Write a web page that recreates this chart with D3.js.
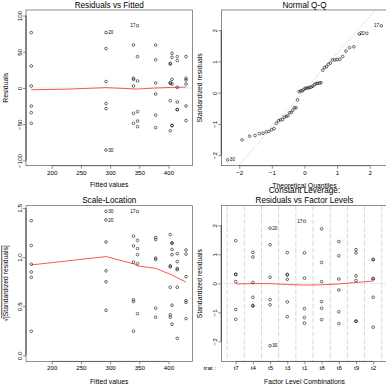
<!DOCTYPE html>
<html>
<head>
<meta charset="utf-8">
<script src="https://cdn.jsdelivr.net/npm/d3@7"></script>
<style>
  body { margin: 0; background: #fff; }
  svg { display: block; }
  text { font-family: "Liberation Sans", Arial, sans-serif; fill: #000; }
</style>
</head>
<body>
<div id="chart"></div>
<script>
// factor levels, in the order of the "Residuals vs Factor Levels" axis
var levels = ["t7", "t4", "t5", "t3", "t1", "t8", "t6", "t9", "t2"];
var levelFitted = [340, 415, 293, 430, 347, 165, 378, 406, 403];

// raw residuals per level (Residuals vs Fitted)
var residuals = [
  [59.4, 13.3, 12, 2.8, -35, -48.8],
  [43.3, 37.8, 0.9, -19.4, -29.5, -30],
  [76.6, 54.5, 8.9, -21.5, -28.5, -85.6],
  [43.3, 13.4, 11, 5.5, -24.9, -45],
  [86, 43.3, 9.7, -32.7, -45.6, -53.4],
  [76.5, 30.4, 2.8, -24.9, -34.1, -48.8],
  [59.2, 39, 7, -8.3, -37.5, -54.8],
  [48, 42.4, 12, 5.5, -51.6, -52],
  [34, 33, 7.4, 6.5, -17.5, -59]
];

// standardized residuals per level, same order
var stdResiduals = [
  [1.47, 0.32, 0.30, 0.06, -0.90, -1.24],
  [1.07, 0.91, 0.03, -0.48, -0.76, -0.78],
  [1.90, 1.33, 0.21, -0.56, -0.74, -2.15],
  [1.06, 0.31, 0.29, 0.14, -0.64, -1.15],
  [2.14, 1.05, 0.18, -0.87, -1.18, -1.37],
  [1.88, 0.72, 0.06, -0.63, -0.86, -1.25],
  [1.44, 0.95, 0.15, -0.23, -0.98, -1.39],
  [1.16, 1.05, 0.26, 0.10, -1.30, -1.31],
  [0.83, 0.81, 0.17, 0.15, -0.48, -1.51]
];

// labelled observations
var idText = ["17", "20", "30"];
var idLevel = ["t1", "t5", "t5"];
var idRow = [0, 0, 5];

// theoretical normal quantiles for n = 54
var theoQuantiles = [-2.355, -1.914, -1.682, -1.514, -1.383, -1.271, -1.173, -1.085, -1.005,
  -0.931, -0.862, -0.796, -0.734, -0.674, -0.617, -0.562, -0.508, -0.456, -0.405, -0.356,
  -0.307, -0.258, -0.210, -0.163, -0.116, -0.070, -0.023, 0.023, 0.070, 0.116, 0.163, 0.210,
  0.258, 0.307, 0.356, 0.405, 0.456, 0.508, 0.562, 0.617, 0.674, 0.734, 0.796, 0.862, 0.931,
  1.005, 1.085, 1.173, 1.271, 1.383, 1.514, 1.682, 1.914, 2.355];
var qqIntercept = 0.07, qqSlope = 1.19;

// smoothers (red lines)
var fitSmoothX = [165, 230, 293, 320, 345, 378, 405, 430];
var fitSmoothY = [-2.5, -1.5, 0.5, -0.5, -1.5, 0, 0.8, 1.2];
var scaleSmoothX = [165, 293, 341, 347, 378, 405, 430];
var scaleSmoothY = [0.92, 1.005, 0.93, 0.91, 0.885, 0.82, 0.745];
var levelSmooth = [-0.02, -0.01, -0.01, -0.04, -0.06, -0.05, -0.02, 0.03, 0.08];

var fitTicks = [200, 250, 300, 350, 400];

// ---- flatten into observations ----
var obs = [];
levels.forEach(function(lev, i) {
  residuals[i].forEach(function(r, j) {
    var id = "";
    for (var k = 0; k < idText.length; k++) if (idLevel[k] === lev && idRow[k] === j) id = idText[k];
    obs.push({lev: lev, li: i, fitted: levelFitted[i], res: r, std: stdResiduals[i][j], id: id});
  });
});

var svg = d3.select("#chart").append("svg").attr("width", 386).attr("height", 386);

var FONT_TICK = 6.2, FONT_LAB = 6.8, FONT_MAIN = 8.2, FONT_ID = 4.6;

function panel(o) {
  var g = svg.append("g");
  var x = o.x, y = o.y;
  var x0 = x.range()[0], x1 = x.range()[1], y0 = y.range()[1], y1 = y.range()[0];
  var clipId = "clip" + Math.round(x0) + "_" + Math.round(y0);
  g.append("clipPath").attr("id", clipId).append("rect")
    .attr("x", x0).attr("y", y0).attr("width", x1 - x0).attr("height", y1 - y0);
  var inner = g.append("g").attr("clip-path", "url(#" + clipId + ")");

  // bottom axis
  var xa = g.append("g").attr("transform", "translate(0," + y1 + ")")
    .call(d3.axisBottom(x).tickValues(o.xTicks).tickFormat(o.xFmt || d3.format("d")).tickSize(3).tickPadding(1.5));
  xa.select(".domain").remove();
  xa.selectAll("line").attr("stroke", "#444").attr("stroke-width", 0.6);
  xa.selectAll("text").attr("font-size", FONT_TICK).attr("dy", "0.71em").style("font-family", "Liberation Sans, Arial, sans-serif");
  xa.attr("font-size", null).attr("font-family", null);
  if (o.xAxisLine !== false) {
    g.append("line").attr("x1", x(o.xTicks[0])).attr("x2", x(o.xTicks[o.xTicks.length - 1]))
      .attr("y1", y1).attr("y2", y1).attr("stroke", "#444").attr("stroke-width", 0.6);
  }

  // left axis, rotated labels
  var ya = g.append("g").attr("transform", "translate(" + x0 + ",0)")
    .call(d3.axisLeft(y).tickValues(o.yTicks).tickFormat(o.yFmt || d3.format("d")).tickSize(3));
  ya.select(".domain").remove();
  ya.selectAll("line").attr("stroke", "#444").attr("stroke-width", 0.6);
  ya.selectAll("text").attr("font-size", FONT_TICK)
    .attr("transform", "rotate(-90)").attr("x", 0).attr("y", -4).attr("dy", 0)
    .attr("text-anchor", "middle").style("font-family", "Liberation Sans, Arial, sans-serif");
  ya.attr("font-size", null).attr("font-family", null);
  g.append("line").attr("x1", x0).attr("x2", x0)
    .attr("y1", y(o.yTicks[0])).attr("y2", y(o.yTicks[o.yTicks.length - 1]))
    .attr("stroke", "#777").attr("stroke-width", 1.4);

  // box
  g.append("rect").attr("x", x0).attr("y", y0).attr("width", x1 - x0).attr("height", y1 - y0)
    .attr("fill", "none").attr("stroke", "#444").attr("stroke-width", 0.6);

  // titles
  var cx = (x0 + x1) / 2;
  g.append("text").attr("x", cx).attr("y", o.titleY).attr("text-anchor", "middle")
    .attr("font-size", FONT_MAIN).text(o.title);
  g.append("text").attr("x", cx).attr("y", o.xlabY).attr("text-anchor", "middle")
    .attr("font-size", FONT_LAB).text(o.xlab);
  var yl = g.append("text").attr("transform", "translate(" + o.ylabX + "," + (y0 + y1) / 2 + ") rotate(-90)")
    .attr("text-anchor", "middle").attr("font-size", FONT_LAB);
  if (o.ylabSqrt) {
    yl.append("tspan").text("\u221A");
    yl.append("tspan").style("text-decoration", "overline").text("|Standardized residuals|");
  } else {
    yl.text(o.ylab);
  }
  return {g: g, inner: inner};
}

function drawPoints(p, data, fx, fy, xMid) {
  p.g.append("g").selectAll("circle").data(data).join("circle")
    .attr("cx", function(d) { return fx(d); }).attr("cy", function(d) { return fy(d); })
    .attr("r", 1.35).attr("fill", "none").attr("stroke", "#111").attr("stroke-width", 0.6);
  p.g.append("g").selectAll("text").data(data.filter(function(d) { return d.id; })).join("text")
    .attr("x", function(d) { return fx(d) + (fx(d) >= xMid ? -2.2 : 2.2); })
    .attr("y", function(d) { return fy(d) + 1.6; })
    .attr("text-anchor", function(d) { return fx(d) >= xMid ? "end" : "start"; })
    .attr("font-size", FONT_ID).text(function(d) { return d.id; });
}

function smooth(p, xs, ys, x, y) {
  var pts = xs.map(function(v, i) { return [x(v), y(ys[i])]; });
  p.inner.append("path").attr("d", d3.line()(pts))
    .attr("fill", "none").attr("stroke", "#ff2a2a").attr("stroke-width", 0.8);
}

function zeroLine(p, x, y) {
  p.inner.append("line").attr("x1", x.range()[0]).attr("x2", x.range()[1])
    .attr("y1", y(0)).attr("y2", y(0))
    .attr("stroke", "#bbb").attr("stroke-width", 0.7).attr("stroke-dasharray", "1,1.5");
}

// ---------- 1. Residuals vs Fitted ----------
var x1s = d3.scaleLinear().domain([156, 441.1]).range([26, 192.5]);
var y1s = d3.scaleLinear().domain([-107.3, 107.7]).range([165.7, 10]);
var p1 = panel({x: x1s, y: y1s, xTicks: fitTicks, yTicks: [-100, -50, 0, 50, 100],
  title: "Residuals vs Fitted", xlab: "Fitted values", ylab: "Residuals",
  titleY: 7.6, xlabY: 187, ylabX: 7.5});
zeroLine(p1, x1s, y1s);
smooth(p1, fitSmoothX, fitSmoothY, x1s, y1s);
drawPoints(p1, obs, function(d) { return x1s(d.fitted); }, function(d) { return y1s(d.res); },
  x1s((d3.min(levelFitted) + d3.max(levelFitted)) / 2));

// ---------- 2. Normal Q-Q ----------
var x2s = d3.scaleLinear().domain([-2.55, 2.55]).range([221.3, 387.6]);
var y2s = d3.scaleLinear().domain([-2.336, 2.646]).range([165.7, 10]);
var p2 = panel({x: x2s, y: y2s, xTicks: [-2, -1, 0, 1, 2], yTicks: [-2, -1, 0, 1, 2],
  title: "Normal Q-Q", xlab: "Theoretical Quantiles", ylab: "Standardized residuals",
  titleY: 7.6, xlabY: 188, ylabX: 201.5});
var qqLine = x2s.domain().map(function(q) { return [x2s(q), y2s(qqIntercept + qqSlope * q)]; });
p2.inner.append("path").attr("d", d3.line()(qqLine)).attr("fill", "none")
  .attr("stroke", "#aaa").attr("stroke-width", 0.7).attr("stroke-dasharray", "1,1.5");
var sorted = obs.slice().sort(function(a, b) { return a.std - b.std; });
sorted.forEach(function(d, i) { d.q = theoQuantiles[i]; });
drawPoints(p2, sorted, function(d) { return x2s(d.q); }, function(d) { return y2s(d.std); }, x2s(0));

// ---------- 3. Scale-Location ----------
var x3s = d3.scaleLinear().domain([156, 441.1]).range([26, 192.5]);
var y3s = d3.scaleLinear().domain([-0.062, 1.523]).range([361.4, 205.7]);
var p3 = panel({x: x3s, y: y3s, xTicks: fitTicks, yTicks: [0, 0.5, 1, 1.5], yFmt: d3.format(".1f"),
  title: "Scale-Location", xlab: "Fitted values", ylabSqrt: true,
  titleY: 203.2, xlabY: 384, ylabX: 7.5});
smooth(p3, scaleSmoothX, scaleSmoothY, x3s, y3s);
drawPoints(p3, obs, function(d) { return x3s(d.fitted); }, function(d) { return y3s(Math.sqrt(Math.abs(d.std))); },
  x3s((d3.min(levelFitted) + d3.max(levelFitted)) / 2));

// ---------- 4. Residuals vs Factor Levels ----------
var x4s = d3.scaleLinear().domain([-0.84, 8.84]).range([221.3, 387.6]);
var y4s = d3.scaleLinear().domain([-2.69, 2.676]).range([361.4, 205.7]);
var levIdx = d3.range(levels.length);
var p4 = panel({x: x4s, y: y4s, xTicks: levIdx, xFmt: function(i) { return levels[i]; },
  yTicks: [-2, -1, 0, 1, 2], xAxisLine: true,
  title: "Residuals vs Factor Levels", xlab: "Factor Level Combinations", ylab: "Standardized residuals",
  titleY: 203.2, xlabY: 384, ylabX: 201.5});
p4.inner.append("g").selectAll("line").data(d3.range(levels.length + 1)).join("line")
  .attr("x1", function(k) { return x4s(k - 0.5); }).attr("x2", function(k) { return x4s(k - 0.5); })
  .attr("y1", 205.7).attr("y2", 361.4)
  .attr("stroke", "#c8c8c8").attr("stroke-width", 0.7).attr("stroke-dasharray", "5,2");
zeroLine(p4, x4s, y4s);
smooth(p4, levIdx, levelSmooth, x4s, y4s);
drawPoints(p4, obs, function(d) { return x4s(d.li); }, function(d) { return y4s(d.std); }, x4s(4));
p4.g.append("text").attr("x", (221.3 + 387.6) / 2).attr("y", 192.5).attr("text-anchor", "middle")
  .attr("font-size", FONT_MAIN).text("Constant Leverage:");
p4.g.append("text").attr("x", 216).attr("y", 370.3).attr("text-anchor", "end")
  .attr("font-size", FONT_TICK).text("trat :");
</script>
</body>
</html>
